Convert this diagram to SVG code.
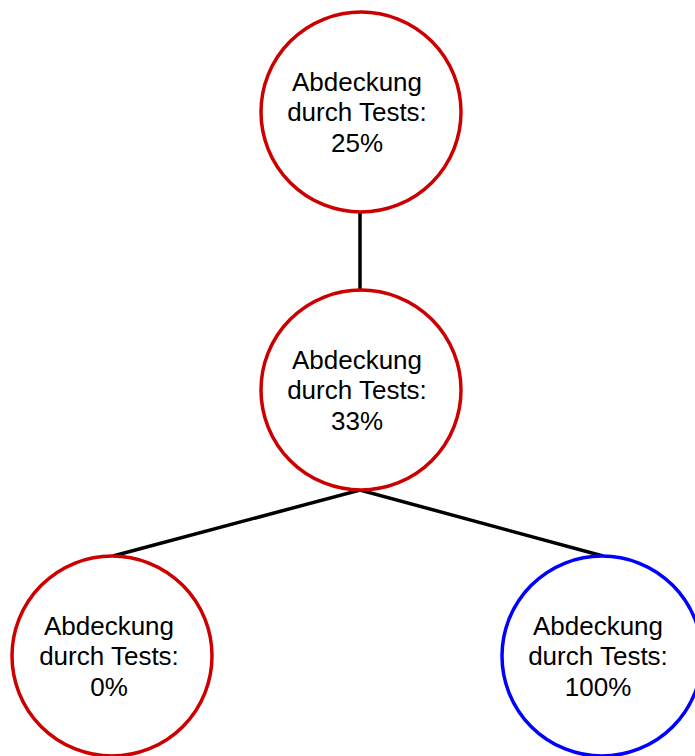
<svg xmlns="http://www.w3.org/2000/svg" width="695" height="756" viewBox="0 0 695 756">
  <style>
    .node { fill: #ffffff; stroke-width: 3.5; }
    .red { stroke: #cc0000; }
    .blue { stroke: #0000ff; }
    .label { font-family: "Liberation Sans", Arial, sans-serif; font-size: 26px; fill: #000000; text-anchor: middle; }
    .edge { stroke: #000000; stroke-width: 3.5; fill: none; }
  </style>
  <rect width="695" height="756" fill="#ffffff"/>

  <g id="connectors">
    <line class="edge" x1="360" y1="212" x2="360" y2="290"/>
    <polyline class="edge" points="113,556 360,490 603,556"/>
  </g>

  <g id="node-root">
    <circle class="node red" cx="361" cy="112" r="100"/>
    <text class="label" x="357" y="91">Abdeckung</text>
    <text class="label" x="357" y="121">durch Tests:</text>
    <text class="label" x="357" y="152">25%</text>
  </g>

  <g id="node-middle">
    <circle class="node red" cx="361" cy="390" r="100"/>
    <text class="label" x="357" y="369">Abdeckung</text>
    <text class="label" x="357" y="399">durch Tests:</text>
    <text class="label" x="357" y="430">33%</text>
  </g>

  <g id="node-left">
    <circle class="node red" cx="112" cy="656" r="100"/>
    <text class="label" x="109" y="635">Abdeckung</text>
    <text class="label" x="109" y="665">durch Tests:</text>
    <text class="label" x="109" y="696">0%</text>
  </g>

  <g id="node-right">
    <circle class="node blue" cx="602" cy="656" r="100"/>
    <text class="label" x="598" y="635">Abdeckung</text>
    <text class="label" x="598" y="665">durch Tests:</text>
    <text class="label" x="598" y="696">100%</text>
  </g>
</svg>
